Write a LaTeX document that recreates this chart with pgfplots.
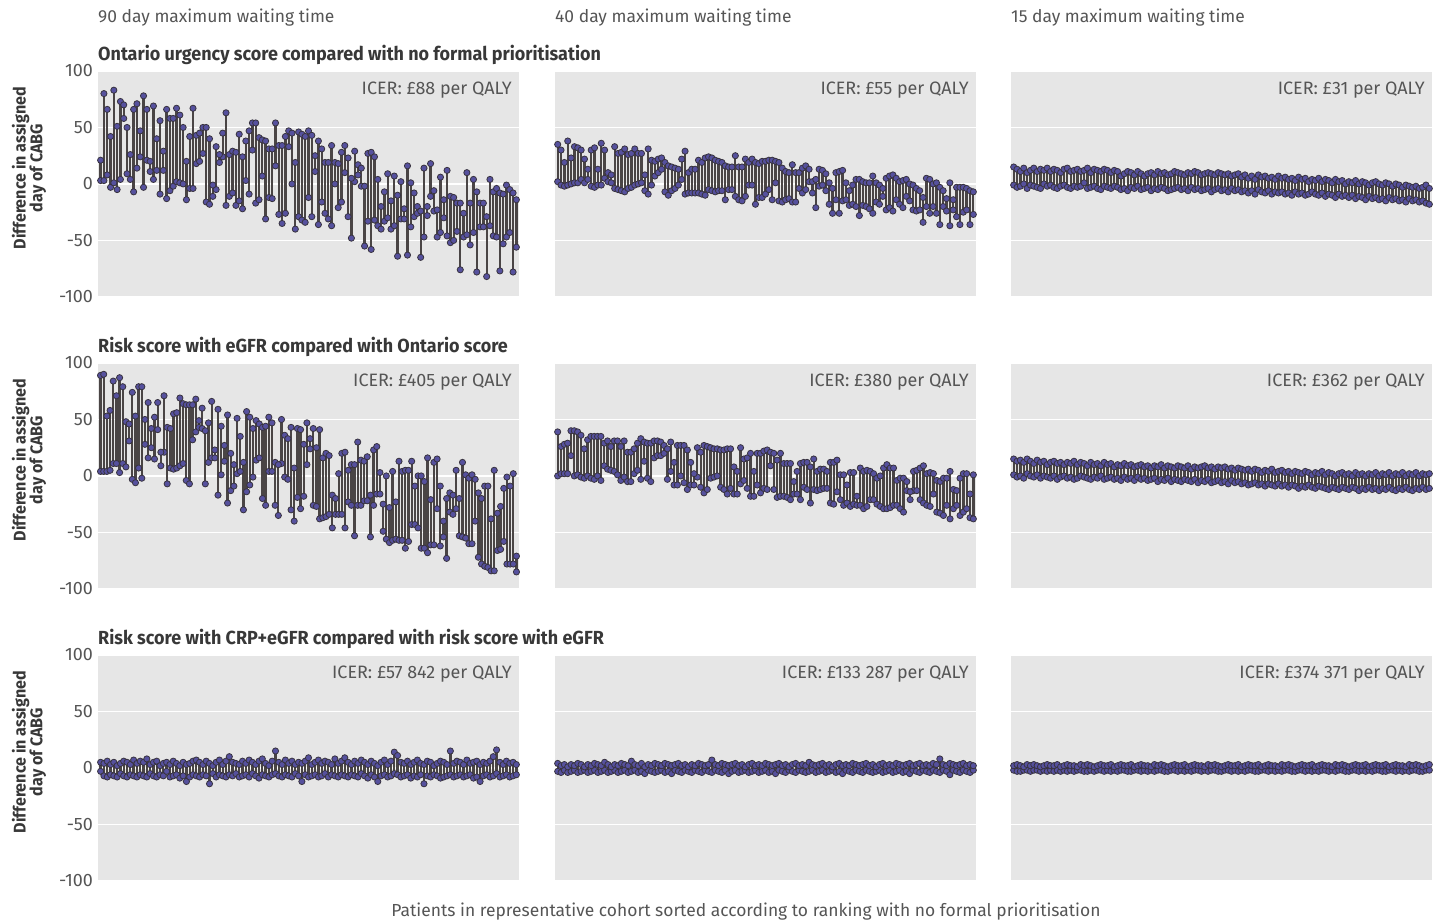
\documentclass[border=0pt]{standalone}
\usepackage{pgfplots}
\usepackage{pgfplotstable}
\pgfplotsset{compat=1.18}
\usepackage{fontspec}
\setmainfont{Fira Sans}
\newfontfamily\condfont[FakeStretch=0.95]{Fira Sans}
\definecolor{bgcol}{HTML}{E6E6E6}
\definecolor{segcol}{HTML}{4A4545}
\definecolor{markfill}{HTML}{56519E}
\definecolor{markedge}{HTML}{38333F}
\definecolor{txtgray}{HTML}{555555}
\definecolor{titledark}{HTML}{383838}
\newcommand\regfont{\fontsize{17.5}{17.5}\selectfont}
\newcommand\icerfont{\fontsize{18}{18}\selectfont}
\newcommand\ttlfont{\condfont\bfseries\fontsize{19}{19}\selectfont}
\newcommand\ylabfont{\condfont\bfseries\fontsize{17}{17}\selectfont}

\pgfplotstableread{
t b
21 3
80 3
66 8
42 -3
83 1
51 -5
73 4
70 58
50 9
26 4
66 -7
71 14
47 24
78 -3
66 21
20 11
69 4
40 12
56 -9
29 12
66 -13
58 -6
58 -2
67 2
61 1
50 0
20 -14
42 -4
67 -4
43 18
45 20
50 27
50 -16
40 -18
-1 -11
33 -5
26 19
45 24
63 -19
26 -11
29 -8
28 -19
44 -15
24 -22
38 3
47 -9
54 30
54 -17
41 -14
39 7
38 -31
31 -12
31 -13
54 16
34 -27
34 -35
42 -26
47 33
45 0
19 -40
46 -29
44 -32
42 -34
47 -12
43 -29
25 11
38 -36
31 -16
19 -26
19 -31
34 -37
19 0
18 -21
28 -16
34 10
23 -29
5 -48
29 2
17 8
14 -2
-2 -55
27 -33
28 -58
24 -32
4 -37
-20 -40
-7 -33
9 -30
-15 -40
7 -37
-10 -64
2 -31
-22 -31
16 -63
1 -38
-8 -29
-20 -26
-24 -65
14 -47
-20 -28
18 -11
-6 -24
-23 -47
6 -43
-14 -30
12 -46
-11 -52
-12 -50
-17 -42
-17 -76
-26 -47
10 -45
-17 -54
4 -43
-7 -78
-17 -38
-17 -38
-29 -82
4 -37
-7 -46
-4 -47
-8 -77
-9 -53
-1 -47
-5 -43
-8 -78
-14 -56
}\tAa

\pgfplotstableread{
t b
35 2
30 -1
19 -2
38 -1
23 0
33 1
32 1
30 4
22 1
13 4
30 -2
32 -3
13 -1
36 -1
30 5
10 2
8 1
33 -4
27 -5
28 -6
31 -7
26 -4
27 -3
31 -1
27 0
27 1
8 -6
31 -9
21 -1
20 7
22 10
23 13
19 -7
16 -10
15 -6
14 -4
13 -1
22 4
29 -9
10 -8
13 -8
13 -8
21 -8
19 -9
23 -10
24 -5
23 -6
21 -7
20 -6
19 -6
16 -14
15 -5
15 -5
25 -11
15 -14
15 -15
22 -11
19 -1
22 -1
19 -18
18 -12
20 -12
20 -9
21 -5
21 -14
20 1
19 -15
14 -16
11 -14
10 -13
17 -16
10 -16
10 -4
14 -8
16 -5
13 2
2 -8
4 -21
13 -2
12 -1
9 -6
1 -18
-4 -26
10 -14
11 -26
12 -15
1 -14
-6 -19
-1 -18
4 -20
4 -28
2 -19
1 -20
1 -22
7 -26
1 -16
-1 -18
-4 -11
5 -23
7 -21
8 -24
5 -14
2 -18
3 -21
4 -11
0 -15
-1 -23
-4 -24
-6 -23
-12 -34
5 -20
4 -26
0 -20
1 -26
-3 -36
-6 -20
-13 -24
1 -37
-14 -23
-3 -29
-3 -36
-3 -25
-4 -23
-6 -36
-7 -27
}\tAb

\pgfplotstableread{
t b
15 -1
13 -3
11 -2
14 0
10 -4
12 -1
14 -2
11 -3
13 -4
12 0
14 -2
11 -1
13 -3
12 -4
10 -2
13 -1
14 -3
11 -4
12 -2
13 -3
11 -2
12 1
14 -4
10 -3
13 -2
12 -4
11 -5
13 -2
12 -3
10 -4
12 -2
11 -3
7 -5
9 -4
11 -6
10 -3
8 -4
11 -2
9 -5
7 -4
9 -3
10 -6
8 -4
11 -5
9 -3
10 -4
8 -6
9 -5
11 -4
10 -3
9 -5
8 -4
10 -6
9 -3
11 -5
10 -4
8 -6
9 -5
10 -4
9 -7
8 -5
10 -4
9 -6
8 -5
9 -7
7 -4
8 -6
9 -5
6 -7
8 -6
5 -8
7 -6
4 -9
8 -5
6 -7
7 -8
5 -6
6 -9
4 -7
7 -8
5 -7
6 -9
4 -8
5 -10
3 -7
6 -9
4 -8
5 -10
2 -9
4 -7
3 -9
5 -10
2 -8
4 -11
3 -9
1 -10
4 -12
2 -9
3 -11
0 -10
2 -12
1 -10
3 -13
0 -11
2 -12
1 -14
-1 -11
1 -13
2 -12
0 -14
-1 -13
1 -15
0 -12
-2 -14
0 -13
-1 -15
-3 -14
-1 -16
-2 -13
-3 -15
-2 -14
-4 -16
-3 -15
-1 -17
-4 -18
}\tAc

\pgfplotstableread{
t b
89 4
90 4
53 4
58 5
84 11
71 11
87 3
79 11
48 8
46 31
74 -3
53 -6
79 7
79 -2
50 28
65 16
42 25
52 15
65 41
21 9
71 21
43 -7
42 7
55 6
56 7
69 9
64 11
63 -4
63 -7
63 32
68 39
49 43
60 42
40 -7
47 12
66 16
23 16
59 -17
44 1
27 13
54 -24
20 -13
10 -9
51 2
35 4
12 -30
57 -14
52 -8
42 -1
49 14
46 16
43 -20
44 -26
52 4
47 4
12 -26
10 -35
50 11
36 -1
33 -3
43 -30
7 -40
42 -19
41 -29
28 -18
47 10
33 24
42 -26
25 -27
41 -38
16 -37
20 -36
18 -34
-17 -46
-20 -34
2 -34
20 -34
21 -46
5 -23
10 -26
10 -53
30 -26
14 -26
13 -22
17 -22
-17 -54
23 -26
26 -16
3 -16
-25 -49
0 -56
-28 -59
4 -57
-23 -56
13 -57
4 -57
5 -64
5 -58
13 -43
-9 -43
0 -46
0 -64
-5 -64
16 -68
-21 -61
12 -61
15 -29
-9 -62
-40 -54
-20 -73
-15 -32
-17 -34
5 -29
-20 -53
12 -54
1 -55
-2 -60
1 -60
-3 -40
-15 -72
-20 -78
-9 -80
-9 -81
-38 -84
5 -84
-33 -66
-27 -65
-11 -58
-1 -78
-9 -78
2 -78
-71 -85
}\tBa

\pgfplotstableread{
t b
39 0
26 2
28 2
29 2
40 18
40 0
39 1
36 -1
24 -2
32 0
35 -2
35 -3
35 0
35 -4
29 9
31 6
26 5
31 4
31 1
26 -4
31 -1
21 -5
21 -5
24 2
29 5
33 -3
30 13
29 -2
29 -5
31 16
31 18
30 18
27 20
24 -3
30 4
12 -8
27 -8
27 0
27 -6
23 -12
12 -8
2 -8
25 -1
21 -10
27 -15
26 -12
25 -2
24 -1
24 0
23 -10
23 -12
24 -16
24 -11
8 -16
4 -16
25 -7
15 -4
16 -11
20 -18
4 -18
20 -8
20 -15
22 -11
23 -12
21 9
20 -12
14 -19
20 -18
11 -18
11 -19
11 -21
-5 -16
4 -16
11 -21
12 -10
12 -12
8 -24
15 -12
4 -13
6 -12
6 -11
4 -11
12 -24
12 -25
14 -14
1 -21
1 -26
-8 -24
3 -27
3 -25
-18 -26
7 -26
4 -29
5 -27
4 -21
2 -21
-2 -25
0 -27
7 -29
10 -29
7 -28
7 -26
-4 -26
-2 -29
-2 -32
-5 -13
-14 -21
4 -13
5 -13
7 -21
9 -24
2 -26
3 -27
2 -16
-4 -32
-5 -33
-2 -35
-2 -26
4 -38
-12 -29
-13 -26
-2 -35
2 -32
2 -29
-16 -37
1 -38
}\tBb

\pgfplotstableread{
t b
15 1
13 -1
14 0
12 -2
15 2
13 0
11 -1
14 1
12 -2
13 0
10 -1
12 -2
13 0
11 -3
12 -1
10 0
12 -2
11 -1
13 -3
10 -2
12 0
11 -1
9 -2
12 -3
10 -1
11 -2
9 0
12 -3
10 -2
11 -1
8 -3
10 -2
9 -4
11 -1
9 -3
10 -2
8 -4
9 -1
10 -3
8 -2
9 -4
7 -3
9 -2
8 -5
10 -3
7 -4
9 -2
8 -5
7 -3
9 -4
8 -5
7 -3
9 -4
6 -5
8 -3
7 -6
8 -4
9 -5
7 -3
8 -6
6 -5
8 -4
7 -6
8 -5
6 -7
7 -4
5 -6
7 -5
6 -7
5 -6
6 -8
4 -7
6 -6
5 -8
3 -7
5 -9
4 -7
6 -8
3 -9
4 -7
5 -9
3 -8
4 -10
2 -8
4 -9
3 -11
2 -9
4 -10
3 -8
1 -10
3 -11
2 -9
4 -10
1 -11
3 -12
2 -10
0 -11
2 -12
3 -10
1 -11
2 -12
0 -10
3 -11
1 -13
2 -11
0 -12
2 -10
1 -12
3 -11
0 -13
2 -11
1 -12
3 -10
0 -12
2 -13
1 -11
3 -12
0 -10
2 -12
1 -13
3 -11
0 -12
2 -10
1 -12
2 -11
}\tBc

\pgfplotstableread{
t b
5 -3
4 -7
6 -8
3 -6
5 -7
2 -8
4 -5
6 -7
5 -8
3 -6
7 -7
4 -8
6 -6
5 -7
8 -8
3 -5
5 -7
6 -8
2 -6
4 -7
5 -3
3 -8
6 -7
4 -6
2 -9
5 -7
3 -12
4 -8
6 -6
7 -7
5 -8
3 -6
6 -7
4 -14
2 -5
5 -8
7 -6
3 -7
6 -8
10 -6
5 -7
4 -5
3 -8
6 -7
4 -6
7 -8
5 -5
3 -7
6 -9
8 -6
4 -7
2 -8
6 -6
15 -5
5 -7
3 -8
7 -6
4 -7
6 -8
3 -5
5 -7
4 -12
6 -6
9 -8
3 -7
5 -6
7 -8
4 -7
6 -5
5 -8
3 -6
8 -7
4 -8
6 -6
9 -7
5 -8
3 -6
6 -7
4 -8
7 -5
5 -7
3 -9
6 -6
4 -8
2 -12
5 -7
7 -6
3 -8
6 -7
14 -5
11 -6
5 -8
4 -7
6 -6
3 -9
5 -7
7 -8
4 -6
3 -14
6 -7
5 -8
2 -6
4 -7
6 -9
5 -8
3 -7
15 -6
4 -8
6 -7
5 -6
3 -8
7 -7
4 -6
5 -9
6 -8
3 -12
5 -7
4 -6
6 -8
10 -7
16 -5
5 -8
3 -7
6 -6
4 -8
5 -7
3 -6
}\tCa

\pgfplotstableread{
t b
4 -3
2 -4
3 -2
1 -4
3 -3
2 -2
4 -4
3 -3
1 -2
3 -4
2 -3
4 -2
3 -4
2 -3
5 -2
3 -4
1 -3
3 -2
2 -4
4 -3
3 -2
2 -4
6 -3
3 -2
2 -4
4 -3
1 -5
3 -2
2 -3
4 -4
3 -3
2 -2
4 -4
3 -3
2 -5
3 -2
4 -3
2 -4
3 -2
1 -3
3 -4
2 -2
4 -3
3 -4
2 -2
3 -3
7 -4
3 -2
2 -3
4 -4
3 -2
2 -5
3 -3
4 -2
2 -4
3 -3
1 -2
3 -4
4 -3
2 -2
3 -4
2 -3
4 -2
3 -4
2 -3
3 -5
4 -2
2 -3
3 -4
1 -2
3 -3
4 -4
2 -2
3 -3
2 -4
5 -3
3 -2
2 -4
3 -3
4 -2
2 -4
3 -3
1 -2
3 -4
4 -3
2 -5
3 -2
2 -3
4 -4
3 -2
2 -3
3 -4
4 -2
2 -3
3 -4
1 -3
3 -2
4 -4
2 -3
3 -2
2 -4
4 -3
3 -2
2 -4
3 -3
4 -5
2 -2
3 -3
4 -4
2 -2
3 -3
2 -4
4 -2
3 -3
8 -4
3 -2
2 -3
4 -6
3 -2
2 -3
3 -4
4 -2
2 -3
3 -4
2 -2
}\tCb

\pgfplotstableread{
t b
2 -2
3 -3
2 -3
1 -2
3 -2
2 -3
3 -2
2 -2
1 -3
2 -2
3 -3
2 -2
2 -3
3 -2
1 -3
2 -2
3 -3
2 -2
2 -3
1 -2
3 -2
2 -3
3 -3
2 -2
1 -3
2 -2
3 -2
2 -3
2 -2
3 -3
1 -2
2 -3
3 -2
2 -2
2 -3
3 -3
1 -2
2 -2
3 -3
2 -2
2 -3
1 -2
3 -3
2 -2
3 -2
2 -3
1 -3
2 -2
3 -2
2 -3
2 -2
3 -3
1 -2
2 -3
3 -2
2 -2
2 -3
1 -2
3 -3
2 -2
3 -2
2 -3
1 -3
2 -2
3 -2
2 -3
2 -2
3 -3
1 -2
2 -3
3 -2
2 -2
2 -3
3 -3
1 -2
2 -2
3 -3
2 -2
2 -3
1 -2
3 -3
2 -2
3 -2
2 -3
1 -3
2 -2
3 -2
2 -3
2 -2
3 -3
1 -2
2 -3
3 -2
2 -2
2 -3
1 -2
3 -3
2 -2
3 -2
2 -3
1 -3
2 -2
3 -2
2 -3
2 -2
3 -3
1 -2
2 -3
3 -2
2 -2
2 -3
3 -3
1 -2
2 -2
3 -3
2 -2
2 -3
1 -2
3 -3
2 -2
3 -2
2 -3
1 -3
2 -2
3 -2
}\tCc

\pgfplotsset{
  panel/.style={
    scale only axis, width=421bp, height=227bp, anchor=south west,
    ymin=-101, ymax=100,
    axis background/.style={fill=bgcol},
    axis line style={draw=none},
    ytick={-100,-50,0,50,100},
    ymajorgrids, grid style={white, line width=1.8bp},
    xtick=\empty, major tick length=0pt,
    yticklabel style={font=\icerfont, text=txtgray, inner sep=0pt, xshift=-5bp},
    clip=false,
  },
  withlabels/.style={yticklabels={-100,-50,0,50,100}},
  nolabels/.style={yticklabels={}},
}

\newcommand\panel[5]{%
  \pgfplotstablegetrowsof{#1}%
  \pgfmathsetmacro\xmx{\pgfplotsretval-0.2}%
  \begin{axis}[panel, at={(#2bp,#3bp)}, xmin=-0.8, xmax=\xmx, #5]
    \addplot[only marks, mark=none,
      error bars/.cd, y dir=plus, y explicit, error mark=none,
      error bar style={draw=segcol, line width=2.3bp}]
      table[x expr=\coordindex, y=b, y error plus expr=\thisrow{t}-\thisrow{b}] {#1};
    \addplot[only marks, mark=*, mark size=3.1bp,
      mark options={fill=markfill, draw=markedge, line width=0.8bp}]
      table[x expr=\coordindex, y=b] {#1};
    \addplot[only marks, mark=*, mark size=3.1bp,
      mark options={fill=markfill, draw=markedge, line width=0.8bp}]
      table[x expr=\coordindex, y=t] {#1};
    \node[anchor=base east, inner sep=0pt, xshift=-7bp, yshift=-23bp,
      font=\icerfont, text=txtgray] at (rel axis cs:1,1) {#4};
  \end{axis}}

\begin{document}
\begin{tikzpicture}
\useasboundingbox (0,0) rectangle (1441bp,-921bp);
% column titles
\node[anchor=base west, inner sep=0pt, font=\regfont, text=txtgray] at (98bp,-22bp) {90 day maximum waiting time};
\node[anchor=base west, inner sep=0pt, font=\regfont, text=txtgray] at (555bp,-22bp) {40 day maximum waiting time};
\node[anchor=base west, inner sep=0pt, font=\regfont, text=txtgray] at (1011bp,-22bp) {15 day maximum waiting time};
% row titles
\node[anchor=base west, inner sep=0pt, font=\ttlfont, text=titledark] at (98bp,-60bp) {Ontario urgency score compared with no formal prioritisation};
\node[anchor=base west, inner sep=0pt, font=\ttlfont, text=titledark] at (98bp,-352bp) {Risk score with eGFR compared with Ontario score};
\node[anchor=base west, inner sep=0pt, font=\ttlfont, text=titledark] at (98bp,-644bp) {Risk score with CRP+eGFR compared with risk score with eGFR};
% y labels
\foreach \yc in {168,460,752}{
\node[rotate=90, align=center, inner sep=0pt, font=\ylabfont, text=titledark] at (29bp,-\yc bp) {Difference in assigned\\day of CABG};
}
% panels
\panel{\tAa}{98}{-298}{ICER: £88 per QALY}{withlabels}
\panel{\tAb}{555}{-298}{ICER: £55 per QALY}{nolabels}
\panel{\tAc}{1011}{-298}{ICER: £31 per QALY}{nolabels}
\panel{\tBa}{98}{-590}{ICER: £405 per QALY}{withlabels}
\panel{\tBb}{555}{-590}{ICER: £380 per QALY}{nolabels}
\panel{\tBc}{1011}{-590}{ICER: £362 per QALY}{nolabels}
\panel{\tCa}{98}{-882}{ICER: £57 842 per QALY}{withlabels}
\panel{\tCb}{555}{-882}{ICER: £133 287 per QALY}{nolabels}
\panel{\tCc}{1011}{-882}{ICER: £374 371 per QALY}{nolabels}
% x label
\node[anchor=base, inner sep=0pt, font=\regfont, text=txtgray] at (746bp,-916bp) {Patients in representative cohort sorted according to ranking with no formal prioritisation};
\end{tikzpicture}
\end{document}
